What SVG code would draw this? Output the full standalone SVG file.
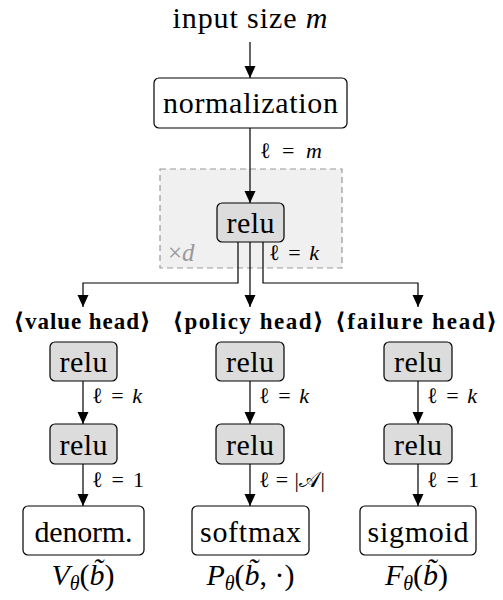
<svg xmlns="http://www.w3.org/2000/svg" width="503" height="600" viewBox="0 0 503 600">
<style>
text{font-family:"Liberation Serif","DejaVu Serif",serif;fill:#000}
.box{fill:#fff;stroke:#000;stroke-width:1.2}
.relu{fill:#dcdcdc;stroke:#000;stroke-width:1.2}
.big{font-size:30px;text-anchor:middle}
.head{font-size:23px;font-weight:bold;text-anchor:middle}
.lab{font-size:22px}
.it{font-style:italic}
.edge{fill:none;stroke:#000;stroke-width:1.2}
</style>
<defs>
<marker id="ah" markerUnits="userSpaceOnUse" markerWidth="12" markerHeight="12" refX="12" refY="6" orient="auto">
<path d="M0,0.5 L12,6 L0,11.5 z" fill="#000"/>
</marker>
</defs>
<rect id="repeat" x="160" y="169" width="182" height="99" fill="#f0f0f0" stroke="#999" stroke-width="1.2" stroke-dasharray="6,4"/>
<text x="168" y="261" font-size="25" style="fill:#999">×<tspan class="it">d</tspan></text>
<g id="connectors">
<line class="edge" x1="250" y1="42" x2="250" y2="78" marker-end="url(#ah)"/>
<line class="edge" x1="250" y1="128" x2="250" y2="203" marker-end="url(#ah)"/>
<polyline class="edge" points="238,242 238,283 83,283 83,307" marker-end="url(#ah)"/>
<line class="edge" x1="250" y1="242" x2="250" y2="307" marker-end="url(#ah)"/>
<polyline class="edge" points="263,242 263,283 418,283 418,307" marker-end="url(#ah)"/>
<line class="edge" x1="83" y1="381" x2="83" y2="424" marker-end="url(#ah)"/>
<line class="edge" x1="83" y1="464" x2="83" y2="506" marker-end="url(#ah)"/>
<line class="edge" x1="250" y1="381" x2="250" y2="424" marker-end="url(#ah)"/>
<line class="edge" x1="250" y1="464" x2="250" y2="506" marker-end="url(#ah)"/>
<line class="edge" x1="418" y1="381" x2="418" y2="424" marker-end="url(#ah)"/>
<line class="edge" x1="418" y1="464" x2="418" y2="506" marker-end="url(#ah)"/>
<text class="lab" x="260" y="158" textLength="62">ℓ = <tspan class="it">m</tspan></text>
<text class="lab" x="269" y="260" textLength="50">ℓ = <tspan class="it">k</tspan></text>
<text class="lab" x="92" y="403" textLength="50">ℓ = <tspan class="it">k</tspan></text>
<text class="lab" x="92" y="487" textLength="52">ℓ = 1</text>
<text class="lab" x="259" y="403" textLength="50">ℓ = <tspan class="it">k</tspan></text>
<text class="lab" x="259" y="487" textLength="66">ℓ = |𝒜|</text>
<text class="lab" x="427" y="403" textLength="50">ℓ = <tspan class="it">k</tspan></text>
<text class="lab" x="427" y="487" textLength="52">ℓ = 1</text>
</g>
<g id="input"><text class="big" x="250" y="28" textLength="155">input size <tspan class="it">m</tspan></text></g>
<g id="normalization"><rect class="box" x="154" y="78" width="193" height="50" rx="5"/><text class="big" x="250.5" y="113" textLength="175">normalization</text></g>
<g id="relu0"><rect class="relu" x="217" y="203" width="67" height="39" rx="5"/><text class="big" x="250.5" y="233" textLength="48">relu</text></g>
<g id="value-head">
<text class="head" x="82" y="329" textLength="137">⟨value head⟩</text>
<rect class="relu" x="50" y="342" width="67" height="39" rx="5"/><text class="big" x="83.5" y="372" textLength="48">relu</text>
<rect class="relu" x="50" y="424" width="67" height="40" rx="5"/><text class="big" x="83.5" y="455" textLength="48">relu</text>
<rect class="box" x="23" y="506" width="121" height="49" rx="5"/><text class="big" x="83.5" y="542" textLength="98">denorm.</text>
<text class="big" x="83" y="585"><tspan class="it">V</tspan><tspan class="it" font-size="20" dy="5">θ</tspan><tspan dy="-5">(</tspan><tspan class="it">b̃</tspan>)</text>
</g>
<g id="policy-head">
<text class="head" x="248" y="329" textLength="151">⟨policy head⟩</text>
<rect class="relu" x="216" y="342" width="68" height="39" rx="5"/><text class="big" x="250" y="372" textLength="48">relu</text>
<rect class="relu" x="216" y="424" width="68" height="40" rx="5"/><text class="big" x="250" y="455" textLength="48">relu</text>
<rect class="box" x="192" y="506" width="117" height="49" rx="5"/><text class="big" x="250.5" y="542" textLength="101">softmax</text>
<text class="big" x="250.5" y="585"><tspan class="it">P</tspan><tspan class="it" font-size="20" dy="5">θ</tspan><tspan dy="-5">(</tspan><tspan class="it">b̃</tspan>, ·)</text>
</g>
<g id="failure-head">
<text class="head" x="416" y="329" textLength="162">⟨failure head⟩</text>
<rect class="relu" x="384" y="342" width="68" height="39" rx="5"/><text class="big" x="418" y="372" textLength="48">relu</text>
<rect class="relu" x="384" y="424" width="68" height="40" rx="5"/><text class="big" x="418" y="455" textLength="48">relu</text>
<rect class="box" x="360" y="506" width="116" height="49" rx="5"/><text class="big" x="418" y="542" textLength="101">sigmoid</text>
<text class="big" x="416.5" y="585"><tspan class="it">F</tspan><tspan class="it" font-size="20" dy="5">θ</tspan><tspan dy="-5">(</tspan><tspan class="it">b̃</tspan>)</text>
</g>
</svg>
